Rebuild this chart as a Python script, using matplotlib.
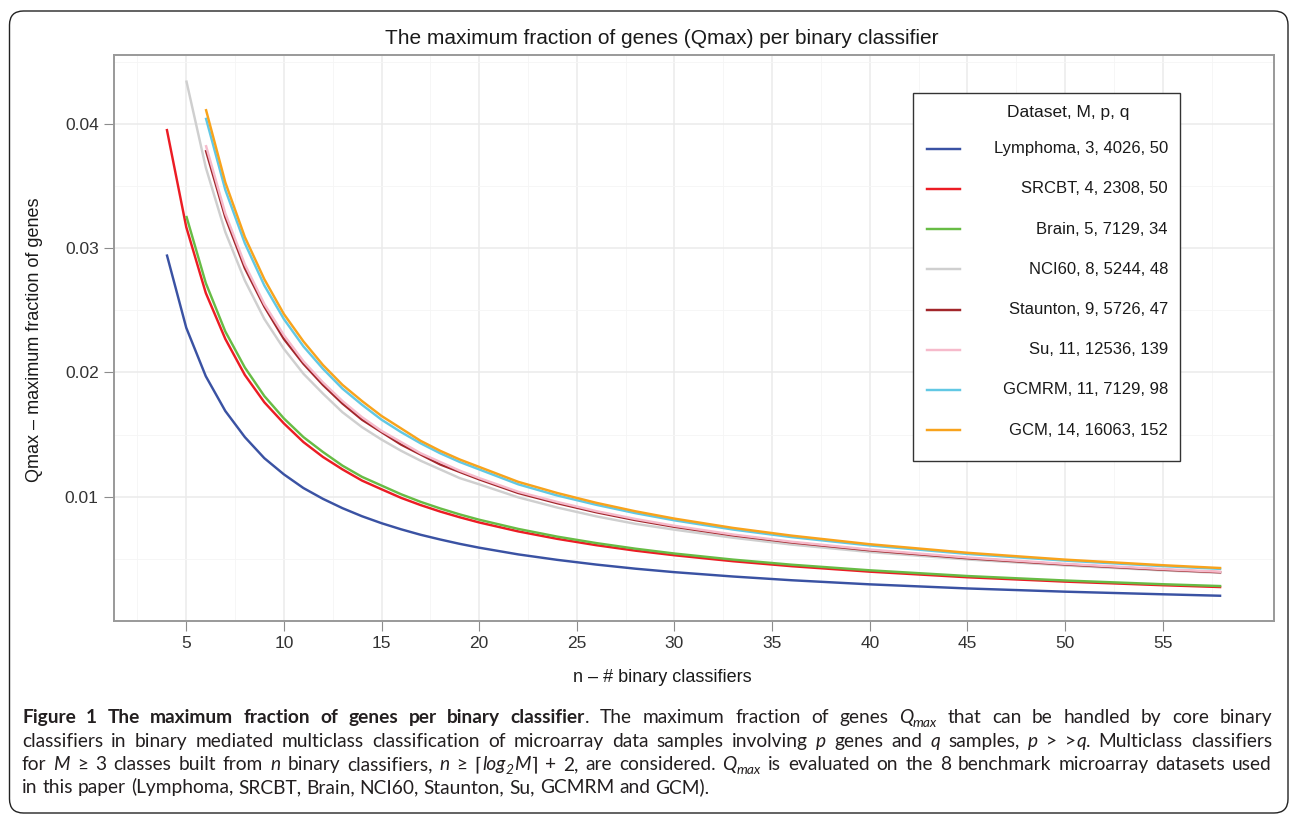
import matplotlib
matplotlib.use("Agg")
import matplotlib.pyplot as plt
from matplotlib.patches import Rectangle, FancyBboxPatch
from matplotlib.lines import Line2D
from matplotlib.font_manager import FontProperties
from matplotlib.transforms import IdentityTransform

# ---- data (Qmax per n) ----
N_GRID = [4, 5, 6, 7, 8, 9, 10, 11, 12, 13, 14, 15, 16, 17, 18, 19, 20,
          22, 24, 26, 28, 30, 33, 36, 40, 45, 50, 55, 58]

datasets = ["Lymphoma, 3, 4026, 50", "SRCBT, 4, 2308, 50", "Brain, 5, 7129, 34",
            "NCI60, 8, 5244, 48", "Staunton, 9, 5726, 47", "Su, 11, 12536, 139",
            "GCMRM, 11, 7129, 98", "GCM, 14, 16063, 152"]
n_start = [4, 4, 5, 5, 6, 6, 6, 6]

lymphoma = [0.0295, 0.0236, 0.0197, 0.0169, 0.0148, 0.0131, 0.0118, 0.0107, 0.00983,
            0.00908, 0.00843, 0.00787, 0.00738, 0.00694, 0.00656, 0.00621, 0.00590,
            0.00536, 0.00492, 0.00454, 0.00421, 0.00393, 0.00358, 0.00328, 0.00295,
            0.00262, 0.00236, 0.00215, 0.00203]
srcbt = [0.0396, 0.0317, 0.0264, 0.0227, 0.0198, 0.0176, 0.0159, 0.0144, 0.0132,
         0.0122, 0.0113, 0.0106, 0.00991, 0.00933, 0.00881, 0.00835, 0.00793,
         0.00721, 0.00661, 0.00610, 0.00566, 0.00529, 0.00481, 0.00441, 0.00397,
         0.00352, 0.00317, 0.00288, 0.00273]
brain = [0.0326, 0.0272, 0.0233, 0.0204, 0.0181, 0.0163, 0.0148, 0.0136, 0.0125,
         0.0116, 0.0109, 0.0102, 0.00959, 0.00906, 0.00858, 0.00815, 0.00741,
         0.00679, 0.00627, 0.00582, 0.00543, 0.00494, 0.00453, 0.00408, 0.00362,
         0.00326, 0.00296, 0.00281]
nci60 = [0.0435, 0.0365, 0.0313, 0.0274, 0.0243, 0.0219, 0.0199, 0.0183, 0.0168,
         0.0156, 0.0146, 0.0137, 0.0129, 0.0122, 0.0115, 0.0110, 0.00995, 0.00913,
         0.00842, 0.00782, 0.00735, 0.00670, 0.00615, 0.00555, 0.00495, 0.00447,
         0.00407, 0.00387]
staunton = [0.0379, 0.0325, 0.0284, 0.0253, 0.0227, 0.0207, 0.0190, 0.0175, 0.0162,
            0.0152, 0.0142, 0.0134, 0.0126, 0.0120, 0.0114, 0.0103, 0.00948, 0.00875,
            0.00812, 0.00758, 0.00689, 0.00632, 0.00569, 0.00505, 0.00455, 0.00413,
            0.00392]
su = [0.0383, 0.0328, 0.0287, 0.0255, 0.0230, 0.0209, 0.0192, 0.0177, 0.0164, 0.0153,
      0.0144, 0.0135, 0.0128, 0.0121, 0.0115, 0.0104, 0.00958, 0.00884, 0.00821,
      0.00766, 0.00696, 0.00638, 0.00575, 0.00511, 0.00460, 0.00418, 0.00396]
gcmrm = [0.0405, 0.0347, 0.0304, 0.0270, 0.0243, 0.0221, 0.0203, 0.0187, 0.0174,
         0.0162, 0.0152, 0.0143, 0.0135, 0.0128, 0.0122, 0.0110, 0.0101, 0.00935,
         0.00868, 0.00810, 0.00736, 0.00675, 0.00608, 0.00540, 0.00486, 0.00442,
         0.00419]
gcm = [0.0412, 0.0353, 0.0309, 0.0275, 0.0247, 0.0225, 0.0206, 0.0190, 0.0177, 0.0165,
       0.0155, 0.0145, 0.0137, 0.0130, 0.0124, 0.0112, 0.0103, 0.00951, 0.00883,
       0.00824, 0.00749, 0.00687, 0.00618, 0.00549, 0.00494, 0.00449, 0.00426]

series = [lymphoma, srcbt, brain, nci60, staunton, su, gcmrm, gcm]
colors = ["#3A52A3", "#EC1C24", "#67BC45", "#CFCFCF", "#A2262B", "#F6BACB",
          "#62C8E4", "#F8A31C"]

x_ticks = [5, 10, 15, 20, 25, 30, 35, 40, 45, 50, 55]
y_ticks = [0.01, 0.02, 0.03, 0.04]
y_tick_labels = ["0.01", "0.02", "0.03", "0.04"]

W, H = 1290, 817
FONT = "Liberation Sans"
CAP_FONT = ["Lato", "DejaVu Sans"]


def fx(px):
    return px / W


def fy(py):
    return 1 - py / H


fig = plt.figure(figsize=(W / 100, H / 100), dpi=100)
fig.patch.set_facecolor("white")

ax = fig.add_axes([fx(114), fy(621), (1274 - 114) / W, (621 - 55) / H])
for name, start, vals, col in zip(datasets, n_start, series, colors):
    i0 = N_GRID.index(start)
    ax.plot(N_GRID[i0:], vals, color=col, lw=1.75, solid_capstyle="butt", zorder=3)

ax.set_xlim(1.3, 60.7)
ax.set_ylim(0, 0.04555)
ax.set_xticks(x_ticks)
ax.set_xticklabels([str(v) for v in x_ticks], fontsize=12.5, family=FONT, color="#333333")
ax.set_yticks(y_ticks)
ax.set_yticklabels(y_tick_labels, fontsize=12.5, family=FONT, color="#333333")
ax.set_xticks([2.5 + 5 * k for k in range(12)], minor=True)
ax.set_yticks([0.005, 0.015, 0.025, 0.035, 0.045], minor=True)
ax.tick_params(which="major", direction="out", length=7, width=0.8, color="#8C8C8C", pad=4)
ax.tick_params(which="minor", length=0)
ax.grid(which="major", color="#EBEBEB", lw=1.1, zorder=0)
ax.grid(which="minor", color="#F5F5F5", lw=0.6, zorder=0)
ax.set_axisbelow(True)
for sp in ax.spines.values():
    sp.set_color("#999999")
    sp.set_linewidth(1.4)

fig.text(fx(662), fy(38), "The maximum fraction of genes (Qmax) per binary classifier",
         ha="center", va="center", fontsize=15, family=FONT, color="#1A1A1A")
fig.text(fx(662), fy(678), "n \u2013 # binary classifiers", ha="center", va="center",
         fontsize=13, family=FONT, color="#1A1A1A")
fig.text(fx(35), fy(340), "Qmax \u2013 maximum fraction of genes", ha="center", va="center",
         rotation=90, fontsize=13, family=FONT, color="#1A1A1A")

# ---- legend box, drawn by hand so labels can be right aligned ----
fig.add_artist(Rectangle((fx(913), fy(460.7)), (1180 - 913) / W, (460.7 - 92.7) / H,
                         transform=fig.transFigure, facecolor="white",
                         edgecolor="#333333", lw=1.0, zorder=5))
fig.text(fx(1068), fy(112), "Dataset, M, p, q", ha="center", va="center", fontsize=12.5,
         family=FONT, color="#1A1A1A", zorder=6)
for i, (name, col) in enumerate(zip(datasets, colors)):
    yy = 148.7 + i * 40.2
    fig.add_artist(Line2D([fx(927), fx(960)], [fy(yy), fy(yy)], transform=fig.transFigure,
                          color=col, lw=1.75, zorder=6))
    fig.text(fx(1168), fy(yy), name, ha="right", va="center", fontsize=12, family=FONT,
             color="#1A1A1A", zorder=6)

# ---- caption with mixed bold / italic runs, justified lines ----
renderer = fig.canvas.get_renderer()
CAP_SIZE = 13.8
CAP_LEFT, CAP_RIGHT = 22, 1272


def cap_prop(style):
    size = CAP_SIZE * (0.72 if style == "is" else 1.0)
    return FontProperties(family=CAP_FONT, size=size,
                          weight="bold" if style == "b" else "normal",
                          style="italic" if style in ("i", "is") else "normal")


def measure(s, prop):
    w1, _, _ = renderer.get_text_width_height_descent("x" + s + "x", prop, ismath=False)
    w2, _, _ = renderer.get_text_width_height_descent("xx", prop, ismath=False)
    return w1 - w2


def caption_line(y, runs, justify=True):
    # split runs into words and single spaces
    tokens = []
    for s, style in runs:
        word = ""
        for ch in s:
            if ch == " ":
                if word:
                    tokens.append((word, style))
                    word = ""
                tokens.append((" ", style))
            else:
                word += ch
        if word:
            tokens.append((word, style))
    widths = [measure(t, cap_prop(st)) for t, st in tokens]
    n_sp = sum(1 for t, _ in tokens if t == " ")
    extra = (CAP_RIGHT - CAP_LEFT - sum(widths)) / n_sp if (justify and n_sp) else 0
    x = CAP_LEFT
    for (t, st), w in zip(tokens, widths):
        if t == " ":
            x += w + extra
            continue
        dy = 4 if st == "is" else 0
        fig.text(fx(x), fy(y + dy), t, fontproperties=cap_prop(st), ha="left",
                 va="baseline", color="#231F20")
        x += w


caption_line(723, [
    ("Figure 1 The maximum fraction of genes per binary classifier", "b"),
    (". The maximum fraction of genes ", "n"), ("Q", "i"), ("max", "is"),
    (" that can be handled by core binary", "n")])
caption_line(747, [
    ("classifiers in binary mediated multiclass classification of microarray data samples involving ", "n"),
    ("p", "i"), (" genes and ", "n"), ("q", "i"), (" samples, ", "n"), ("p", "i"),
    (" > >", "n"), ("q", "i"), (". Multiclass classifiers", "n")])
caption_line(770, [
    ("for ", "n"), ("M", "i"), (" \u2265 3 classes built from ", "n"), ("n", "i"),
    (" binary classifiers, ", "n"), ("n", "i"), (" \u2265 \u2308", "n"), ("log", "i"),
    ("2", "is"), ("M", "i"), ("\u2309 + 2, are considered. ", "n"), ("Q", "i"),
    ("max", "is"), (" is evaluated on the 8 benchmark microarray datasets used", "n")])
caption_line(793, [
    ("in this paper (Lymphoma, SRCBT, Brain, NCI60, Staunton, Su, GCMRM and GCM).", "n")],
    justify=False)

# rounded frame around the whole figure
fig.add_artist(FancyBboxPatch((9.5, H - 813), 1278.5, 802, boxstyle="round,pad=0,rounding_size=14",
                              transform=IdentityTransform(), facecolor="none",
                              edgecolor="#222222", lw=1.0, zorder=10))

fig.savefig("out.png", dpi=100)
